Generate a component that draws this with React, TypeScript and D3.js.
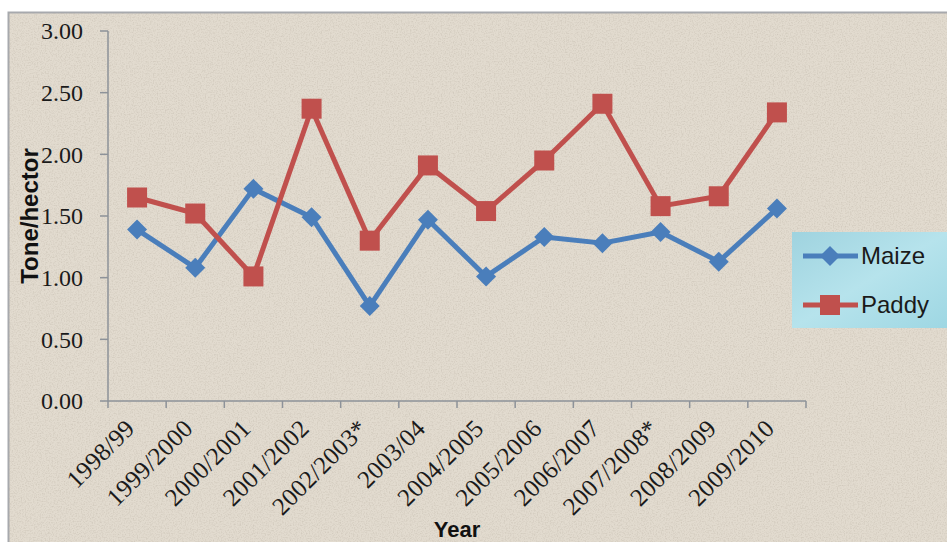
import React from "react";
import * as d3 from "d3";

// Seasons on the x axis
const seasons = [
  "1998/99", "1999/2000", "2000/2001", "2001/2002", "2002/2003*", "2003/04",
  "2004/2005", "2005/2006", "2006/2007", "2007/2008*", "2008/2009", "2009/2010",
];

// Yield, tone per hector
const maize = [1.39, 1.08, 1.72, 1.49, 0.77, 1.47, 1.01, 1.33, 1.28, 1.37, 1.13, 1.56];
const paddy = [1.65, 1.52, 1.01, 2.37, 1.30, 1.91, 1.54, 1.95, 2.41, 1.58, 1.66, 2.34];

const yTicks = [0, 0.5, 1, 1.5, 2, 2.5, 3];

const W = 947;
const H = 542;
const plot = { left: 108, right: 806, top: 31, bottom: 401 };

const BLUE = "#4a7ebb";
const RED = "#c0504d";
const AXIS = "#8d9299";

export default function App() {
  const x = d3.scaleBand<string>().domain(seasons).range([plot.left, plot.right]);
  const y = d3.scaleLinear().domain([0, 3]).range([plot.bottom, plot.top]);
  const cx = (s: string) => (x(s) as number) + x.bandwidth() / 2;

  const line = d3
    .line<number>()
    .x((_, i) => cx(seasons[i]))
    .y((d) => y(d));

  const boundaries = seasons.map((s) => x(s) as number).concat([plot.right]);

  const diamond = (px: number, py: number, r: number) =>
    `M${px},${py - r}L${px + r},${py}L${px},${py + r}L${px - r},${py}Z`;

  return (
    <svg
      width={W}
      height={H}
      style={{ position: "absolute", left: 0, top: 0, display: "block" }}
    >
      <defs>
        <filter id="grain" x="0" y="0" width="100%" height="100%">
          <feTurbulence type="fractalNoise" baseFrequency="0.75" numOctaves={2} seed={7} />
          <feColorMatrix
            type="matrix"
            values="0 0 0 0 0.45  0 0 0 0 0.40  0 0 0 0 0.33  0 0 0 -2.2 1.25"
          />
        </filter>
        <linearGradient id="legendBg" x1="0" y1="0" x2="1" y2="1">
          <stop offset="0" stopColor="#9fd3df" />
          <stop offset="0.5" stopColor="#b6e3ec" />
          <stop offset="1" stopColor="#9ed7e3" />
        </linearGradient>
      </defs>

      <rect x={0} y={0} width={W} height={H} fill="#ffffff" />
      {/* paper background with frame */}
      <rect x={8.5} y={12.5} width={W} height={H} fill="#e2dbcf" stroke="#a7a9ad" strokeWidth={2} />
      <rect x={9.5} y={13.5} width={W} height={H} filter="url(#grain)" opacity={0.35} />

      {/* y axis */}
      <line x1={plot.left} x2={plot.left} y1={plot.top} y2={plot.bottom} stroke={AXIS} strokeWidth={1.5} />
      {yTicks.map((t) => (
        <g key={t}>
          <line x1={plot.left - 8} x2={plot.left} y1={y(t)} y2={y(t)} stroke={AXIS} strokeWidth={1.5} />
          <text
            x={83}
            y={y(t)}
            dy="0.35em"
            textAnchor="end"
            fontFamily="'Liberation Serif', serif"
            fontSize={24}
            fill="#1a1a1a"
          >
            {t.toFixed(2)}
          </text>
        </g>
      ))}

      {/* x axis */}
      <line x1={plot.left} x2={plot.right} y1={plot.bottom} y2={plot.bottom} stroke={AXIS} strokeWidth={1.5} />
      {boundaries.map((b, i) => (
        <line key={i} x1={b} x2={b} y1={plot.bottom} y2={plot.bottom + 7} stroke={AXIS} strokeWidth={1.5} />
      ))}
      {seasons.map((s) => (
        <text
          key={s}
          transform={`translate(${cx(s) - 1},${plot.bottom + 29}) rotate(-45)`}
          textAnchor="end"
          fontFamily="'Liberation Serif', serif"
          fontSize={25}
          letterSpacing={0.3}
          fill="#1a1a1a"
        >
          {s}
        </text>
      ))}

      {/* series */}
      <path d={line(maize) ?? ""} fill="none" stroke={BLUE} strokeWidth={5} strokeLinejoin="round" />
      {maize.map((v, i) => (
        <path key={i} d={diamond(cx(seasons[i]), y(v), 10)} fill={BLUE} />
      ))}
      <path d={line(paddy) ?? ""} fill="none" stroke={RED} strokeWidth={5} strokeLinejoin="round" />
      {paddy.map((v, i) => (
        <rect key={i} x={cx(seasons[i]) - 10} y={y(v) - 10} width={20} height={20} fill={RED} />
      ))}

      {/* axis titles */}
      <text
        transform={`translate(38,${(plot.top + plot.bottom) / 2}) rotate(-90)`}
        textAnchor="middle"
        fontFamily="'Liberation Sans', Arial, sans-serif"
        fontWeight="bold"
        fontSize={24}
        fill="#111"
      >
        Tone/hector
      </text>
      <text
        x={(plot.left + plot.right) / 2}
        y={537}
        textAnchor="middle"
        fontFamily="'Liberation Sans', Arial, sans-serif"
        fontWeight="bold"
        fontSize={22}
        fill="#111"
      >
        Year
      </text>

      {/* legend */}
      <g>
        <rect x={792} y={232} width={155} height={96} fill="url(#legendBg)" />
        <line x1={803} x2={858} y1={256} y2={256} stroke={BLUE} strokeWidth={5} />
        <path d={diamond(830, 256, 10)} fill={BLUE} />
        <text x={861} y={256} dy="0.35em" fontFamily="'Liberation Sans', Arial, sans-serif" fontSize={24} fill="#1a1a1a">
          Maize
        </text>
        <line x1={803} x2={858} y1={305} y2={305} stroke={RED} strokeWidth={5} />
        <rect x={820} y={295} width={20} height={20} fill={RED} />
        <text x={861} y={305} dy="0.35em" fontFamily="'Liberation Sans', Arial, sans-serif" fontSize={24} fill="#1a1a1a">
          Paddy
        </text>
      </g>
    </svg>
  );
}
